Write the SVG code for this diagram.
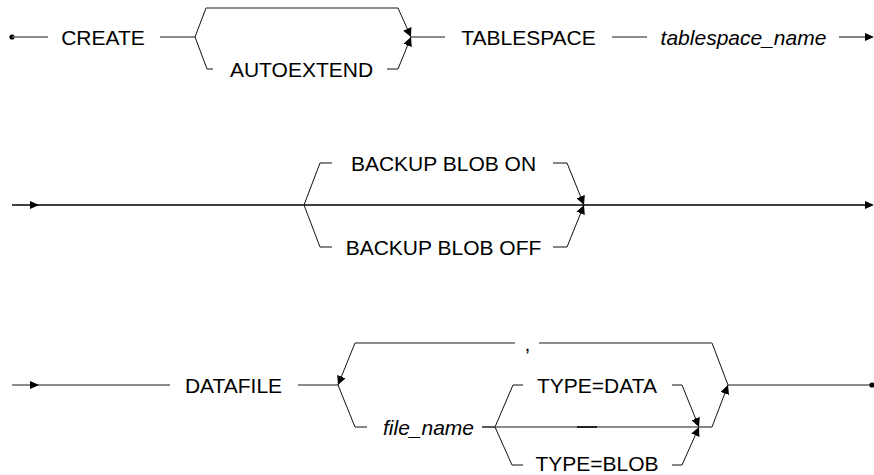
<svg xmlns="http://www.w3.org/2000/svg" width="874" height="475" viewBox="0 0 874 475">
<defs>
<style>
.t{font-family:"Liberation Sans",Arial,sans-serif;font-size:21px;fill:#000;text-anchor:middle}
.i{font-style:italic}
.h{stroke:#666;stroke-width:1.6;fill:none}
.k{stroke:#000;stroke-width:1.3;fill:none}
.d{stroke:#111;stroke-width:1;fill:none}
.a{fill:#000}
</style>
<marker id="arr" markerUnits="userSpaceOnUse" markerWidth="10" markerHeight="9" refX="9" refY="4.5" orient="auto" viewBox="0 0 10 9">
<path d="M0,0 L9,4.5 L0,9 z" fill="#000"/>
</marker>
</defs>
<rect width="874" height="475" fill="#fff"/>
<g id="connectors">
<!-- row 1 -->
<circle cx="12" cy="37" r="2.6" class="a"/>
<line x1="12" y1="37" x2="48" y2="37" class="h"/>
<line x1="160" y1="37" x2="195" y2="37" class="h"/>
<polyline points="195,37 206,8" class="d"/>
<line x1="206" y1="8" x2="398" y2="8" class="h"/>
<polyline points="398,8 411,37" class="d" marker-end="url(#arr)"/>
<polyline points="195,37 207,69 213,69" class="d"/>
<polyline points="387,69 398,69 411,37" class="d" marker-end="url(#arr)"/>
<line x1="411" y1="37" x2="445" y2="37" class="h"/>
<line x1="612" y1="37" x2="647" y2="37" class="h"/>
<line x1="839" y1="37" x2="866" y2="37" class="h"/>
<path d="M865,33 L874,37 L865,41 z" class="a"/>
<!-- row 2 -->
<line x1="12" y1="205" x2="866" y2="205" class="k"/>
<path d="M30,201 L39,205 L30,209 z" class="a"/>
<path d="M865,201 L874,205 L865,209 z" class="a"/>
<polyline points="304,205 320,163 332,163" class="d"/>
<polyline points="553,163 567,163 584,205" class="d" marker-end="url(#arr)"/>
<polyline points="304,205 320,247 332,247" class="d"/>
<polyline points="553,247 567,247 584,205" class="d" marker-end="url(#arr)"/>
<!-- row 3 -->
<line x1="12" y1="385" x2="170" y2="385" class="h"/>
<path d="M30,381 L39,385 L30,389 z" class="a"/>
<line x1="298" y1="385" x2="338" y2="385" class="h"/>
<line x1="728" y1="385" x2="871" y2="385" class="h"/>
<circle cx="872" cy="385" r="2.6" class="a"/>
<polyline points="728,385 712,343" class="d"/>
<line x1="712" y1="343" x2="539" y2="343" class="h"/>
<line x1="515" y1="343" x2="355" y2="343" class="h"/>
<polyline points="355,343 338,385" class="d" marker-end="url(#arr)"/>
<polyline points="338,385 355,427 367,427" class="d"/>
<line x1="482" y1="427" x2="495" y2="427" class="k"/>
<polyline points="495,427 513,385 523,385" class="d"/>
<polyline points="672,385 682,385 699,427" class="d" marker-end="url(#arr)"/>
<line x1="495" y1="427" x2="699" y2="427" class="h"/>
<line x1="577" y1="427" x2="597" y2="427" stroke="#222" stroke-width="2"/>
<polyline points="495,427 512,465 523,465" class="d"/>
<polyline points="672,465 682,465 699,427" class="d" marker-end="url(#arr)"/>
<line x1="699" y1="427" x2="712" y2="427" class="h"/>
<polyline points="712,427 728,385" class="d" marker-end="url(#arr)"/>
</g>
<g id="n-create"><text class="t" x="103" y="44.5">CREATE</text></g>
<g id="n-autoextend"><text class="t" x="301.5" y="76.5">AUTOEXTEND</text></g>
<g id="n-tablespace"><text class="t" x="528.5" y="44.5">TABLESPACE</text></g>
<g id="n-tablespace-name"><text class="t i" x="743.5" y="44.5">tablespace_name</text></g>
<g id="n-backup-on"><text class="t" x="443.5" y="170.5">BACKUP BLOB ON</text></g>
<g id="n-backup-off"><text class="t" x="443.5" y="254.5">BACKUP BLOB OFF</text></g>
<g id="n-datafile"><text class="t" x="233.5" y="392.5">DATAFILE</text></g>
<g id="n-comma"><text class="t" x="527.5" y="350.5">,</text></g>
<g id="n-file-name"><text class="t i" x="428.5" y="434.5">file_name</text></g>
<g id="n-type-data"><text class="t" x="597" y="392.5">TYPE=DATA</text></g>
<g id="n-type-blob"><text class="t" x="597" y="471">TYPE=BLOB</text></g>
</svg>
